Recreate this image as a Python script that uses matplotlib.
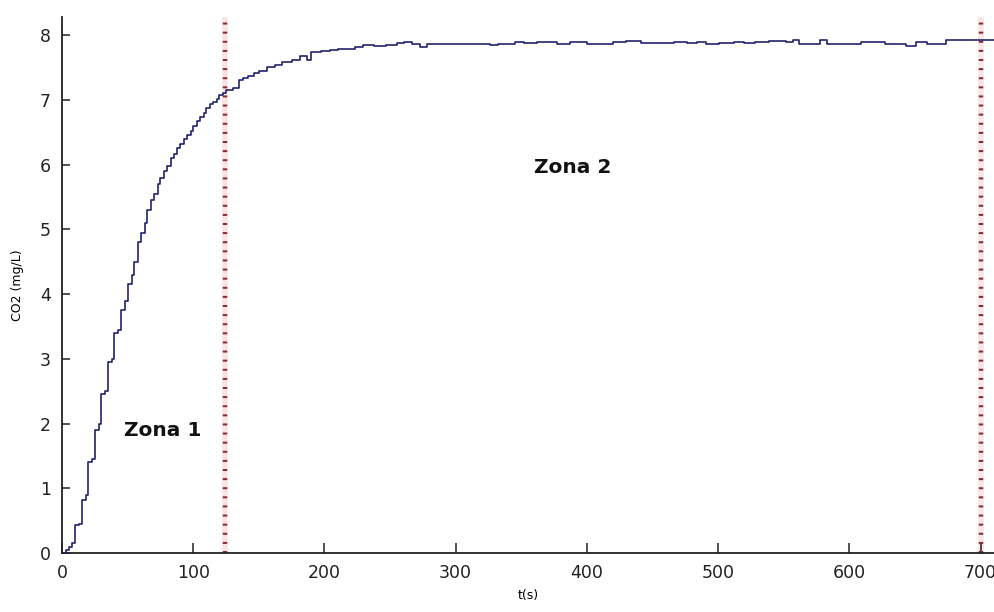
import matplotlib
matplotlib.use("Agg")
import matplotlib.pyplot as plt

# time (s) and CO2 (mg/L) readings
t_rise = [0, 3, 5, 8, 10, 13, 15, 18, 20, 23, 25, 28, 30, 33, 35, 38, 40, 43, 45, 48,
          50, 53, 55, 58, 60, 63, 65, 68, 70, 73, 75, 78, 80, 83, 85, 88, 90, 93, 95, 98,
          100, 103, 105, 108, 110, 113, 115, 118, 120, 123, 125, 130, 135, 138, 142, 146,
          150, 156, 162, 168, 175, 181, 185, 187, 190, 197, 204, 210, 217, 223, 229, 238,
          247, 255, 261, 267, 273, 278, 288, 298]
co2_rise = [0.0, 0.05, 0.1, 0.15, 0.43, 0.45, 0.82, 0.9, 1.4, 1.45, 1.9, 2.0, 2.45, 2.5,
            2.95, 3.0, 3.4, 3.45, 3.75, 3.9, 4.15, 4.3, 4.5, 4.8, 4.95, 5.1, 5.3, 5.45,
            5.55, 5.7, 5.8, 5.9, 5.98, 6.1, 6.17, 6.25, 6.32, 6.4, 6.45, 6.52, 6.6, 6.68,
            6.73, 6.8, 6.87, 6.93, 6.97, 7.02, 7.07, 7.1, 7.15, 7.18, 7.3, 7.34, 7.37,
            7.41, 7.45, 7.5, 7.54, 7.58, 7.62, 7.67, 7.67, 7.62, 7.74, 7.76, 7.77, 7.78,
            7.79, 7.82, 7.85, 7.83, 7.85, 7.88, 7.9, 7.87, 7.82, 7.87, 7.86, 7.87]
t_steady = [305, 318, 326, 332, 345, 352, 362, 377, 387, 396, 400, 420, 430, 441, 466,
            476, 484, 491, 501, 512, 520, 528, 539, 552, 557, 562, 575, 578, 583, 609,
            624, 627, 641, 643, 651, 656, 659, 674, 712]
co2_steady = [7.87, 7.87, 7.84, 7.87, 7.9, 7.88, 7.9, 7.87, 7.9, 7.89, 7.86, 7.9, 7.91,
              7.88, 7.9, 7.88, 7.9, 7.86, 7.88, 7.9, 7.88, 7.89, 7.91, 7.89, 7.92, 7.87,
              7.87, 7.92, 7.87, 7.9, 7.89, 7.86, 7.86, 7.83, 7.9, 7.89, 7.87, 7.92, 7.92]

zone_limits = [124, 700]
zone_labels = ["Zona 1", "Zona 2"]
zone_label_pos = [(77, 1.9), (389, 5.95)]

t = t_rise + t_steady
co2 = co2_rise + co2_steady

fig = plt.figure(figsize=(9.95, 6.12), dpi=100)
ax = fig.add_axes([62 / 995, 59 / 612, 1 - 62 / 995, 536 / 612])

ax.plot(t, co2, drawstyle="steps-post", color="#23236e", lw=1.2, zorder=3)

for xv in zone_limits:
    ax.axvline(xv, color="#fbe4e4", lw=4.0, zorder=1)
    ax.axvline(xv, color="#8a2a2a", lw=3.2, linestyle=(0, (0.45, 1.6)),
               dash_capstyle="butt", zorder=2)

for lab, (xx, yy) in zip(zone_labels, zone_label_pos):
    ax.text(xx, yy, lab, fontsize=14.5, fontweight="bold", ha="center", va="center",
            color="#111111")

ax.set_xlim(0, 711)
ax.set_ylim(0, 8.28)
ax.set_xticks([0, 100, 200, 300, 400, 500, 600, 700])
ax.set_yticks(range(0, 9))

for s in ["top", "right"]:
    ax.spines[s].set_visible(False)
for s in ["left", "bottom"]:
    ax.spines[s].set_linewidth(1.3)
    ax.spines[s].set_color("#222222")

ax.tick_params(axis="x", direction="in", length=7.5, width=1.1, labelsize=12.5,
               pad=8, colors="#222222")
ax.tick_params(axis="y", direction="in", length=6, width=1.1, labelsize=12.5,
               pad=8, colors="#222222")

ax.set_xlabel("t(s)", fontsize=9, labelpad=5)
ax.set_ylabel("CO2 (mg/L)", fontsize=9, labelpad=11)

fig.savefig("out.png", dpi=100)
